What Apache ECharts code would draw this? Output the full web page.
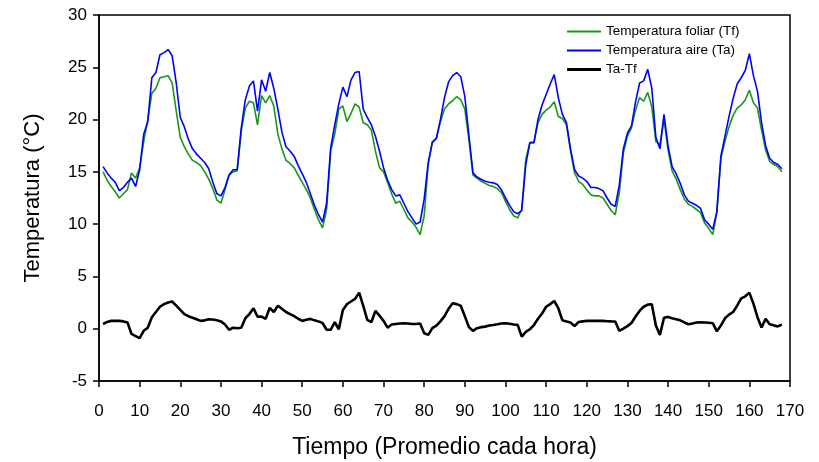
<!DOCTYPE html>
<html>
<head>
<meta charset="utf-8">
<script src="https://cdn.jsdelivr.net/npm/echarts@6/dist/echarts.min.js"></script>
<style>
html,body{margin:0;padding:0;background:#fff;}
#chart{width:819px;height:462px;}
</style>
</head>
<body>
<div id="chart"></div>
<script>
// Hourly averages, hours 1..168
const tempAire = [
15.5,14.9,14.4,14.0,13.2,13.5,14.0,14.4,13.6,15.2,
18.6,19.8,24.0,24.5,26.2,26.4,26.7,26.1,23.5,20.2,
19.3,18.1,17.2,16.7,16.3,15.9,15.3,14.0,12.9,12.7,
13.5,14.7,15.2,15.2,19.2,21.9,23.2,23.7,20.8,23.8,
22.7,24.5,23.0,21.0,18.8,17.4,17.0,16.5,15.6,14.8,
14.0,12.9,11.8,10.9,10.2,12.0,17.3,19.5,21.5,23.1,
22.2,23.8,24.5,24.6,21.0,20.2,19.5,18.4,17.0,15.4,
14.2,13.3,12.7,12.8,12.0,11.2,10.6,10.0,10.2,12.4,
15.9,17.8,18.2,20.0,22.1,23.6,24.2,24.5,24.1,22.2,
18.5,14.9,14.5,14.3,14.1,14.0,13.95,13.8,13.3,12.5,
11.8,11.2,11.0,11.3,15.7,17.8,17.8,20.0,21.4,22.4,
23.4,24.3,22.1,20.5,19.7,17.2,15.2,14.6,14.4,14.1,
13.5,13.5,13.4,13.2,12.5,11.9,11.7,13.7,17.2,18.7,
19.4,21.7,23.5,23.7,24.8,23.0,18.3,17.2,20.5,17.45,
15.5,14.8,13.9,12.8,12.2,12.0,11.8,11.5,10.4,10.0,
9.5,11.2,16.5,18.4,20.3,22.0,23.4,24.0,24.7,26.3,
24.2,22.7,19.7,17.5,16.3,15.9,15.7,15.3
];
const tempFoliar = [
15.0,14.2,13.6,13.1,12.5,12.9,13.3,14.9,14.4,15.4,
17.9,20.0,22.5,23.0,24.0,24.1,24.2,23.5,20.8,18.3,
17.4,16.7,16.1,15.9,15.6,15.0,14.3,13.4,12.3,12.0,
13.3,14.7,15.0,15.1,18.9,21.1,21.75,21.6,19.5,22.3,
21.6,22.3,21.3,18.6,17.2,16.1,15.8,15.4,14.7,14.0,
13.3,12.5,11.4,10.4,9.65,11.4,17.0,18.6,21.0,21.3,
19.8,20.6,21.5,21.2,19.7,19.5,19.0,17.0,15.4,15.0,
14.0,12.9,12.0,12.2,11.4,10.6,10.2,9.7,9.0,10.8,
15.7,17.9,18.2,19.8,21.0,21.5,21.8,22.2,21.9,21.0,
18.1,14.7,14.4,14.1,13.9,13.7,13.6,13.4,13.0,12.2,
11.4,10.8,10.6,11.4,16.2,17.8,17.8,19.7,20.5,20.9,
21.2,21.7,20.3,20.1,19.5,17.0,14.9,14.1,13.8,13.3,
12.8,12.7,12.7,12.5,11.9,11.3,10.9,13.0,16.8,18.4,
19.2,20.9,22.1,21.75,22.6,21.2,17.9,17.6,20.0,17.1,
15.1,14.3,13.3,12.4,11.9,11.7,11.4,11.1,10.1,9.6,
9.0,11.1,16.3,17.9,19.3,20.4,21.1,21.4,21.9,22.8,
21.6,21.1,19.0,17.1,16.0,15.7,15.5,15.0
];
const diferencia = [
0.45,0.65,0.75,0.75,0.75,0.7,0.6,-0.5,-0.7,-0.9,
-0.2,0.1,1.1,1.6,2.1,2.35,2.5,2.6,2.2,1.8,
1.4,1.2,1.05,0.9,0.75,0.8,0.9,0.88,0.8,0.7,
0.4,-0.1,0.1,0.05,0.1,1.0,1.4,1.96,1.16,1.16,
0.94,2.0,1.6,2.2,1.9,1.6,1.4,1.2,0.95,0.75,
0.85,0.94,0.8,0.7,0.55,-0.1,-0.1,0.62,-0.05,1.8,
2.35,2.6,2.85,3.45,2.2,0.84,0.62,1.7,1.25,0.75,
0.1,0.4,0.45,0.5,0.53,0.5,0.45,0.45,0.5,-0.43,
-0.59,0.05,0.3,0.7,1.2,1.9,2.44,2.35,2.2,1.2,
0.15,-0.2,0.05,0.15,0.2,0.3,0.35,0.42,0.5,0.53,
0.47,0.4,0.37,-0.75,-0.3,-0.05,0.35,0.95,1.45,2.1,
2.35,2.65,1.96,0.8,0.7,0.6,0.25,0.65,0.7,0.75,
0.75,0.75,0.75,0.75,0.72,0.7,0.69,-0.2,0.0,0.25,
0.55,1.16,1.7,2.1,2.3,2.34,0.3,-0.59,1.05,1.13,
1.0,0.9,0.8,0.6,0.43,0.5,0.6,0.62,0.6,0.57,
0.53,-0.25,0.3,1.0,1.35,1.6,2.2,2.9,3.1,3.45,
2.4,1.1,0.11,0.94,0.43,0.32,0.22,0.4
];
const seriesNames = ['Temperatura foliar (Tf)', 'Temperatura aire (Ta)', 'Ta-Tf'];
const xTitle = 'Tiempo (Promedio cada hora)';
const yTitle = 'Temperatura (°C)';

function pairs(arr){ return arr.map((v,i)=>[i+1, v]); }

const font = "'Liberation Sans', Arial, sans-serif";
const chart = echarts.init(document.getElementById('chart'), null, {renderer:'canvas'});
chart.setOption({
  animation:false,
  backgroundColor:'#fff',
  grid:{left:99, right:29, top:15, bottom:81, containLabel:false, outerBoundsMode:'none',
        show:true, borderColor:'#000', borderWidth:1.5, backgroundColor:'transparent'},
  legend:{
    orient:'vertical', left:567, top:24, padding:0, itemWidth:34, itemHeight:3, itemGap:4,
    textStyle:{fontFamily:font, fontSize:13.5, color:'#000', lineHeight:15},
    data:[
      {name:seriesNames[0], icon:'path://M0,0H34V2H0Z', itemStyle:{color:'#1a961a'}},
      {name:seriesNames[1], icon:'path://M0,0H34V2H0Z', itemStyle:{color:'#0000ff'}},
      {name:seriesNames[2], icon:'path://M0,0H34V3H0Z', itemStyle:{color:'#000'}}
    ]
  },
  xAxis:{
    type:'value', min:0, max:170, interval:10,
    name:xTitle, nameLocation:'middle', nameGap:55,
    nameTextStyle:{fontFamily:font, fontSize:23, color:'#000'},
    axisLine:{show:true, onZero:false, lineStyle:{color:'#000', width:1.5}},
    axisTick:{show:true, inside:false, length:6, lineStyle:{color:'#000', width:1.5}},
    axisLabel:{fontFamily:font, fontSize:17, color:'#000', margin:22},
    splitLine:{show:false}
  },
  yAxis:{
    type:'value', min:-5, max:30, interval:5,
    name:yTitle, nameLocation:'middle', nameGap:55, nameRotate:90,
    nameTextStyle:{fontFamily:font, fontSize:22, color:'#000'},
    axisLine:{show:true, onZero:false, lineStyle:{color:'#000', width:1.5}},
    axisTick:{show:true, inside:false, length:6, lineStyle:{color:'#000', width:1.5}},
    axisLabel:{fontFamily:font, fontSize:17, color:'#000', margin:12},
    splitLine:{show:false}
  },
  series:[
    {name:seriesNames[0], type:'line', data:pairs(tempFoliar), symbol:'none', color:'#1a961a', lineStyle:{width:1.6, color:'#1a961a'}},
    {name:seriesNames[1], type:'line', data:pairs(tempAire), symbol:'none', color:'#0000ff', lineStyle:{width:1.6, color:'#0000ff'}},
    {name:seriesNames[2], type:'line', data:pairs(diferencia), symbol:'none', color:'#000', lineStyle:{width:2.6, color:'#000'}}
  ]
});
</script>
</body>
</html>
